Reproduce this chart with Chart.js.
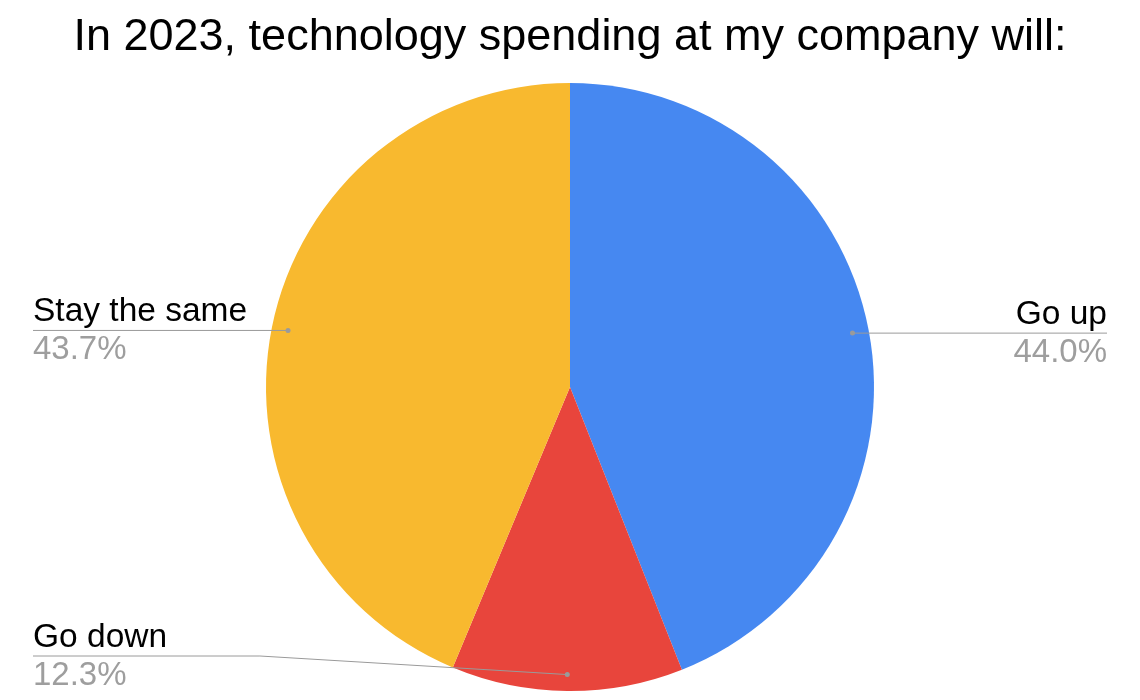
<!DOCTYPE html>
<html>
<head>
<meta charset="utf-8">
<script src="https://cdn.jsdelivr.net/npm/chart.js@4"></script>
<style>
  html, body { margin: 0; padding: 0; background: #fff; }
  #wrap { width: 1140px; height: 700px; }
</style>
</head>
<body>
<div id="wrap"><canvas id="pie"></canvas></div>
<script>
const categories = ['Go up', 'Go down', 'Stay the same'];
const shares = [44.0, 12.3, 43.7];
const sliceColors = ['#4688F1', '#E8453C', '#F8B92F'];
const chartTitle = 'In 2023, technology spending at my company will:';

const fontFamily = '"Liberation Sans", Arial, Helvetica, sans-serif';

// draws the leader lines + "name / percent" labels next to each slice
const sideLabels = {
  id: 'sideLabels',
  afterDatasetsDraw(chart) {
    const ctx = chart.ctx;
    const meta = chart.getDatasetMeta(0);
    const leftEdge = 33;
    const rightEdge = chart.width - 33;
    const lowest = chart.height - 44;

    meta.data.forEach((arc, i) => {
      const mid = (arc.startAngle + arc.endAngle) / 2;
      const r = arc.outerRadius * 0.946;
      const dotX = arc.x + Math.cos(mid) * r;
      const dotY = arc.y + Math.sin(mid) * r;
      const onRight = Math.cos(mid) > 0.05;
      const edgeX = onRight ? rightEdge : leftEdge;
      const lineY = Math.min(dotY, lowest);

      ctx.save();
      ctx.strokeStyle = '#9a9a9a';
      ctx.lineWidth = 1;
      ctx.beginPath();
      ctx.moveTo(edgeX, lineY);
      if (lineY !== dotY) {
        const bendX = arc.x - arc.outerRadius * 1.02;
        ctx.lineTo(bendX, lineY);
      }
      ctx.lineTo(dotX, dotY);
      ctx.stroke();

      ctx.fillStyle = '#9a9a9a';
      ctx.beginPath();
      ctx.arc(dotX, dotY, 2.5, 0, Math.PI * 2);
      ctx.fill();

      ctx.textAlign = onRight ? 'right' : 'left';
      ctx.textBaseline = 'alphabetic';
      ctx.font = '33.5px ' + fontFamily;
      ctx.fillStyle = '#000';
      ctx.fillText(categories[i], edgeX, lineY - 9);
      ctx.font = '33px ' + fontFamily;
      ctx.fillStyle = '#9e9e9e';
      ctx.fillText(shares[i].toFixed(1) + '%', edgeX, lineY + 29);
      ctx.restore();
    });
  }
};

new Chart(document.getElementById('pie'), {
  type: 'pie',
  data: {
    labels: categories,
    datasets: [{
      data: shares,
      backgroundColor: sliceColors,
      borderWidth: 0,
    }],
  },
  options: {
    responsive: true,
    maintainAspectRatio: false,
    animation: false,
    layout: { padding: { top: 0, bottom: 9, left: 0, right: 0 } },
    plugins: {
      legend: { display: false },
      tooltip: { enabled: false },
      title: {
        display: true,
        text: chartTitle,
        color: '#000',
        font: { family: fontFamily, size: 45, weight: 'normal', lineHeight: 1.2 },
        padding: { top: 10.5, bottom: 18.5 },
      },
    },
  },
  plugins: [sideLabels],
});
</script>
</body>
</html>
